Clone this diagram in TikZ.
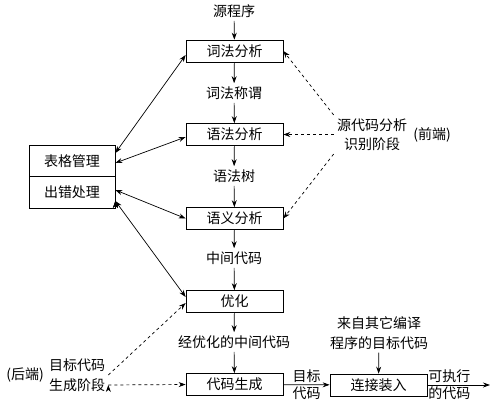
\documentclass[tikz,border=0pt]{standalone}
\usepackage{fontspec}
\setmainfont{Noto Sans CJK SC}
\usetikzlibrary{arrows.meta, positioning}
\tikzset{>={Stealth[length=7pt,width=5pt]},
box/.style={draw, minimum width=97pt, minimum height=22pt, inner sep=0pt},
half/.style={draw, minimum width=86pt, minimum height=31.5pt, inner sep=0pt},
txt/.style={inner sep=3pt, align=center},
lbl/.style={inner sep=1.5pt}}

\begin{document}
\begin{tikzpicture}[x=1pt,y=-1pt,line width=0.7pt,font=\fontsize{14}{19.5}\selectfont]
\useasboundingbox (0,0) rectangle (496,413);
% main chain
\node[txt] (src) at (234,11) {源程序};
\node[box] (lex) at (234.5,51) {词法分析};
\node[txt] (tok) at (234,93) {词法称谓};
\node[box] (syn) at (234.5,134.5) {语法分析};
\node[txt] (tree) at (234,176) {语法树};
\node[box] (sem) at (234.5,218.5) {语义分析};
\node[txt] (mid) at (234,258) {中间代码};
\node[box] (opt) at (234.5,301.5) {优化};
\node[txt] (omid) at (234,342) {经优化的中间代码};
\node[box] (gen) at (234.5,384.5) {代码生成};
\node[box] (link) at (378.5,385) {连接装入};
\node[txt] (other) at (379,333) {来自其它编译\\程序的目标代码};
\coordinate (out) at (490,385);
% left box
\node[half] (tbl) at (72,161) {表格管理};
\node[half] (err) at (72,192.5) {出错处理};
% phases
\node[txt] (front) at (372,134.5) {源代码分析\\识别阶段};
\node[txt] (fe) at (432,135) {(前端)};
\node[txt] (back) at (77,375) {目标代码\\生成阶段};
\node[txt] (be) at (25,375) {(后端)};

\draw[->]
(src) edge (lex)
(lex) edge (tok)
(tok) edge (syn)
(syn) edge (tree)
(tree) edge (sem)
(sem) edge (mid)
(mid) edge (opt)
(opt) edge (omid)
(omid) edge (gen)
(other) edge (link)
(gen) edge node[lbl,above]{目标} node[lbl,below]{代码} (link)
(link) edge node[lbl,above,pos=0.35]{可执行} node[lbl,below,pos=0.35]{的代码} (out);

\draw[<->]
([yshift=8pt]tbl.east) edge ([yshift=-4pt]lex.west)
([yshift=-2pt]tbl.east) edge ([yshift=-2.5pt]syn.west)
([yshift=2.5pt]err.east) edge (sem.west)
([yshift=-8.5pt]err.east) edge ([yshift=4.5pt]opt.west);

\draw[->,dashed]
(front.north west) edge (lex.east)
(front.west) edge (syn.east)
(front.south west) edge (sem.east)
(back.east) edge ([yshift=-1.5pt]opt.west)
([yshift=-10pt]back.east) edge (gen.west);
\end{tikzpicture}
\end{document}
